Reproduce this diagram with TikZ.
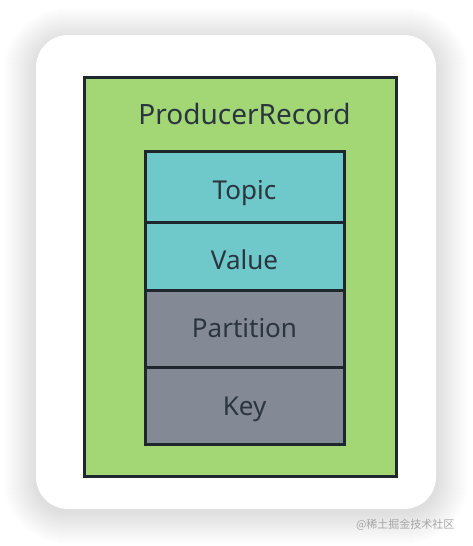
\documentclass[tikz,border=0pt]{standalone}
\usepackage{fontspec}
\setmainfont{Noto Sans}
\newfontfamily\cjk{Noto Sans CJK SC}
\definecolor{cardgreen}{HTML}{A3D775}
\definecolor{teal}{HTML}{6FC9CB}
\definecolor{slate}{HTML}{838A96}
\definecolor{edge}{HTML}{1F272E}
\definecolor{ink}{HTML}{2A3540}
\tikzset{
  field/.style={draw=edge, line width=3pt, minimum width=199pt, inner sep=0pt},
  lbl/.style={anchor=base, inner sep=0pt, text=ink, font=\fontsize{26}{30}\selectfont},
}
\begin{document}
\begin{tikzpicture}[x=1pt,y=-1pt]
\useasboundingbox (0,0) rectangle (472,546);
\fill[white] (0,0) rectangle (472,546);
% soft shadow
\foreach \r in {1,2,...,32}{
  \fill[black,opacity=0.0045,rounded corners=30+\r] (36-\r,40-\r) rectangle (436+\r,512+\r);
}
\node[fill=white, rounded corners=32, minimum width=400pt, minimum height=474pt, inner sep=0pt] (card) at (236,272) {};
\node[fill=cardgreen, draw=edge, line width=3pt, minimum width=312pt, minimum height=399pt, inner sep=0pt] (outer) at (240.5,276.5) {};
\node[lbl, font=\fontsize{28}{32}\selectfont] (title) at (244.5,124) {ProducerRecord};
\node[field, fill=teal, minimum height=71pt] (topic) at (244.5,186.5) {};
\node[field, fill=teal, minimum height=68pt] (value) at (244.5,256) {};
\node[field, fill=slate, minimum height=77pt] (partition) at (244.5,328.5) {};
\node[field, fill=slate, minimum height=77pt] (key) at (244.5,405.5) {};
\node[lbl] (topiclbl) at (244.5,199) {Topic};
\node[lbl] (valuelbl) at (244.5,269) {Value};
\node[lbl] (partitionlbl) at (244.5,337) {Partition};
\node[lbl] (keylbl) at (244.5,415) {Key};
\node[text=black!35, font=\cjk\fontsize{11}{13}\selectfont, anchor=east] (wm) at (458,525) {@稀土掘金技术社区};
\end{tikzpicture}
\end{document}
